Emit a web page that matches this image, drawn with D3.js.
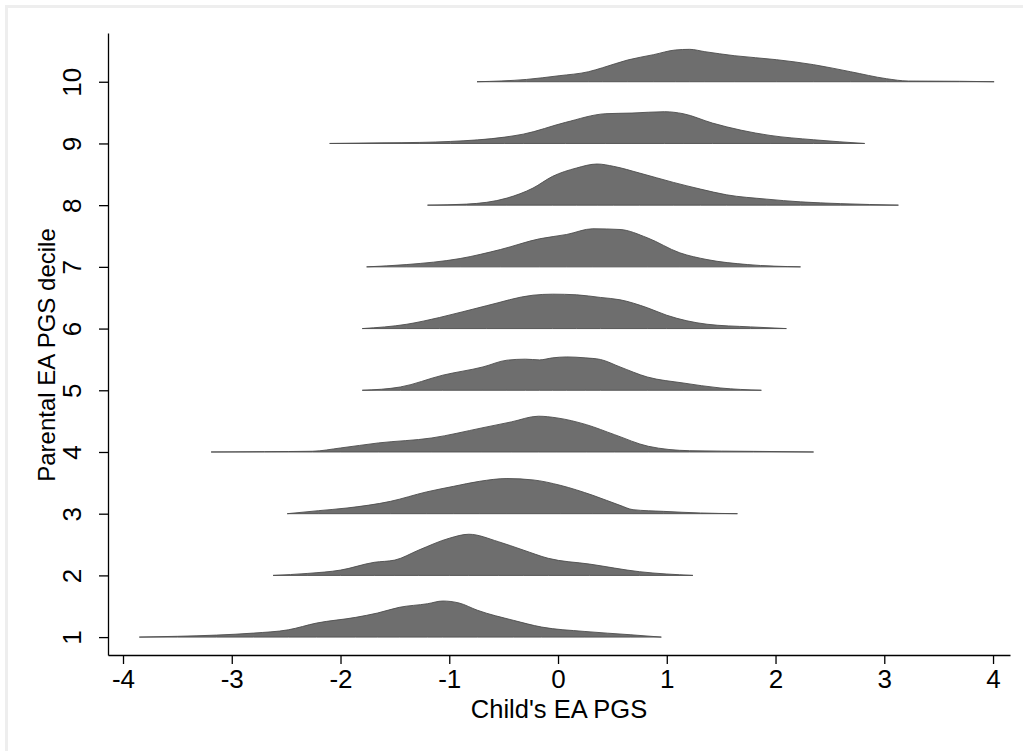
<!DOCTYPE html>
<html>
<head>
<meta charset="utf-8">
<script src="https://cdn.jsdelivr.net/npm/d3@7"></script>
<style>
  body { margin: 0; background: #fff; }
  svg text { font-family: "Liberation Sans", Arial, sans-serif; fill: #000; }
</style>
</head>
<body>
<div id="chart"></div>
<script>
// parental EA PGS deciles and x ticks
const deciles = [1, 2, 3, 4, 5, 6, 7, 8, 9, 10];
const xTicks = [-4, -3, -2, -1, 0, 1, 2, 3, 4];

// child's EA PGS density per decile, [x, density]
const dens1 = [[-3.85,0],[-3.5,0.01],[-3.14,0.025],[-2.8,0.05],[-2.48,0.091],[-2.22,0.175],[-1.86,0.246],[-1.66,0.3],[-1.46,0.371],[-1.2,0.416],[-1.06,0.45],[-0.91,0.425],[-0.74,0.334],[-0.41,0.209],[-0.15,0.125],[0.24,0.071],[0.67,0.029],[0.95,0]];
const dens2 = [[-2.62,0],[-2.3,0.025],[-2.0,0.066],[-1.69,0.163],[-1.5,0.191],[-1.28,0.316],[-1.0,0.463],[-0.82,0.513],[-0.55,0.421],[-0.32,0.316],[-0.09,0.213],[0.29,0.141],[0.75,0.046],[1.24,0]];
const dens3 = [[-2.49,0],[-2.2,0.038],[-1.94,0.071],[-1.54,0.154],[-1.21,0.271],[-0.96,0.341],[-0.72,0.404],[-0.47,0.438],[-0.23,0.421],[0.02,0.354],[0.32,0.229],[0.57,0.104],[0.69,0.05],[0.97,0.029],[1.31,0.009],[1.65,0]];
const dens4 = [[-3.19,0],[-2.7,0.004],[-2.26,0.009],[-2.0,0.05],[-1.65,0.113],[-1.16,0.175],[-0.7,0.3],[-0.43,0.375],[-0.18,0.446],[-0.01,0.425],[0.26,0.341],[0.52,0.216],[0.83,0.071],[1.21,0.016],[1.8,0.008],[2.35,0]];
const dens5 = [[-1.8,0],[-1.45,0.041],[-1.06,0.188],[-0.69,0.291],[-0.47,0.375],[-0.3,0.388],[-0.17,0.379],[-0.05,0.404],[0.08,0.416],[0.25,0.404],[0.39,0.384],[0.57,0.291],[0.82,0.166],[1.15,0.091],[1.49,0.029],[1.87,0]];
const dens6 = [[-1.8,0],[-1.39,0.054],[-1.09,0.138],[-0.66,0.284],[-0.23,0.416],[-0.05,0.429],[0.17,0.421],[0.39,0.388],[0.57,0.359],[0.82,0.26],[1.0,0.166],[1.37,0.054],[1.77,0.021],[2.1,0]];
const dens7 = [[-1.76,0],[-1.39,0.029],[-0.9,0.104],[-0.53,0.216],[-0.17,0.35],[0.08,0.404],[0.32,0.475],[0.57,0.466],[0.82,0.363],[1.12,0.175],[1.37,0.091],[1.74,0.029],[2.23,0]];
const dens8 = [[-1.2,0],[-0.84,0.013],[-0.47,0.088],[-0.23,0.213],[-0.05,0.359],[0.17,0.463],[0.36,0.513],[0.51,0.484],[0.75,0.4],[1.06,0.284],[1.31,0.2],[1.55,0.129],[1.92,0.075],[2.23,0.041],[2.6,0.019],[3.13,0]];
const dens9 = [[-2.1,0],[-1.6,0.008],[-1.27,0.013],[-0.99,0.025],[-0.49,0.079],[-0.32,0.116],[0.07,0.263],[0.44,0.371],[0.68,0.379],[0.98,0.396],[1.15,0.371],[1.42,0.254],[1.95,0.1],[2.35,0.046],[2.82,0]];
const dens10 = [[-0.745,0],[-0.29,0.029],[0.01,0.075],[0.28,0.125],[0.41,0.175],[0.64,0.271],[0.88,0.338],[1.08,0.396],[1.21,0.404],[1.35,0.375],[1.62,0.325],[2.01,0.275],[2.35,0.213],[2.69,0.125],[3.02,0.038],[3.22,0.009],[3.69,0.006],[4.01,0]];

const ridges = [dens1, dens2, dens3, dens4, dens5, dens6, dens7, dens8, dens9, dens10];

const W = 1023, H = 751;
const margin = { top: 33, right: 13, bottom: 96, left: 108 };
const fontSize = 26;
const ridgeScale = 1.3; // density -> decile units

const svg = d3.select("#chart").append("svg")
    .attr("width", W)
    .attr("height", H);

svg.append("rect").attr("width", W).attr("height", H).attr("fill", "#fff");

// light frame of the graph region (cropped at right/bottom)
svg.append("rect")
    .attr("x", 6.5).attr("y", 6.5)
    .attr("width", W + 50).attr("height", H + 50)
    .attr("fill", "none")
    .attr("stroke", "#eeeeee")
    .attr("stroke-width", 3);

const x = d3.scaleLinear()
    .domain([-4.138, 4.156])
    .range([margin.left, W - margin.right]);

const y = d3.scaleLinear()
    .domain([0.71, 10.79])
    .range([H - margin.bottom, margin.top]);

const area = d3.area()
    .x(d => x(d[0]))
    .y0(d => y(d.base))
    .y1(d => y(d.base + d[1] * ridgeScale))
    .curve(d3.curveMonotoneX);

const g = svg.append("g");
ridges.forEach((r, i) => {
    const pts = r.map(p => { const q = [p[0], p[1]]; q.base = deciles[i]; return q; });
    g.append("path")
        .datum(pts)
        .attr("d", area)
        .attr("fill", "#6e6e6e")
        .attr("stroke", "#4d4d4d")
        .attr("stroke-width", 0.9)
        .attr("stroke-linejoin", "round");
});

// x axis
const xAxis = svg.append("g")
    .attr("transform", `translate(0,${H - margin.bottom})`)
    .call(d3.axisBottom(x).tickValues(xTicks).tickSize(9).tickSizeOuter(0).tickPadding(6)
        .tickFormat(d => String(d)));

// y axis
const yAxis = svg.append("g")
    .attr("transform", `translate(${margin.left},0)`)
    .call(d3.axisLeft(y).tickValues(deciles).tickSize(9).tickSizeOuter(0)
        .tickFormat(d => String(d)));

yAxis.selectAll(".tick text")
    .attr("transform", "rotate(-90)")
    .attr("x", 0)
    .attr("y", -27)
    .attr("dy", 0)
    .attr("text-anchor", "middle");

[xAxis, yAxis].forEach(a => {
    a.selectAll("path, line").attr("stroke", "#000").attr("stroke-width", 1.3);
    a.selectAll("text").style("font-size", fontSize + "px").attr("fill", "#000");
});

// axis titles
svg.append("text")
    .attr("x", (margin.left + W - margin.right) / 2)
    .attr("y", 718)
    .attr("text-anchor", "middle")
    .style("font-size", "25.5px")
    .text("Child's EA PGS");

svg.append("text")
    .attr("transform", `translate(55,355) rotate(-90)`)
    .attr("text-anchor", "middle")
    .style("font-size", "24px")
    .text("Parental EA PGS decile");
</script>
</body>
</html>
